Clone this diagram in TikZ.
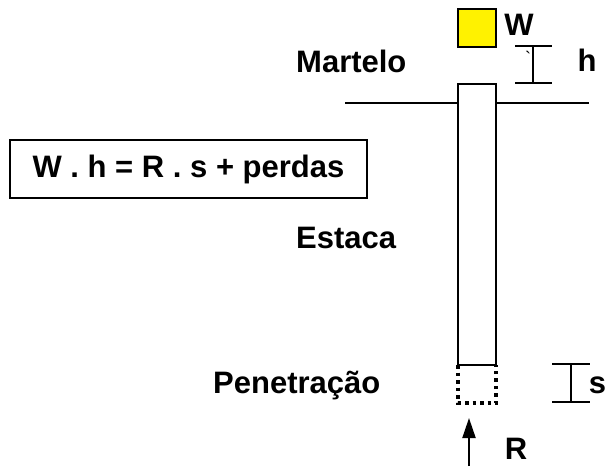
\documentclass[tikz,border=0pt]{standalone}
\usepackage{fontspec}
\newfontfamily\arial{Liberation Sans}
\usetikzlibrary{arrows.meta}
\begin{document}
\begin{tikzpicture}[x=1pt,y=-1pt,
  lbl/.style={inner sep=0pt, font=\arial\fontsize{31}{36}\selectfont\bfseries},
  ln/.style={line width=2pt},
  dots/.style={line width=3.5pt, dash pattern=on 3.5pt off 4pt}]
\useasboundingbox (0,0) rectangle (605,466);
% hammer
\draw[ln, fill=yellow] (458,9) rectangle (496,47);
\node[lbl, anchor=base] (W) at (519,35) {W};
% pile
\draw[ln] (458,84) rectangle (496,365);
\coordinate (pbl) at (458,365);
\coordinate (pbr) at (496,365);
\draw[dots] (pbl) -- (458,403) -- (496,403) -- (pbr);
% ground line
\coordinate (g1) at (345,103);
\coordinate (g2) at (458,103);
\coordinate (g3) at (496,103);
\coordinate (g4) at (589,103);
\draw[ln] (g1) -- (g2);
\draw[ln] (g3) -- (g4);
% h marker
\coordinate (ht) at (533,46);
\coordinate (hb) at (533,83);
\draw[ln] (515,46) -- (552,46);
\draw[ln] (515,83) -- (552,83);
\draw[ln] (ht) -- (hb);
\node[inner sep=0pt, font=\arial\fontsize{18}{20}\selectfont, anchor=base] (tick) at (528,64) {\textasciigrave};
\node[lbl, anchor=base] (h) at (587,71) {h};
% s marker
\coordinate (st) at (571,364);
\coordinate (sb) at (571,402);
\draw[ln] (552,364) -- (590,364);
\draw[ln] (552,402) -- (590,402);
\draw[ln] (st) -- (sb);
\node[lbl, anchor=base] (s) at (597.5,393) {s};
% R arrow
\coordinate (ra) at (469,466);
\coordinate (rb) at (469,418);
\draw[ln, -{Triangle[length=20pt,width=13pt]}] (ra) -- (rb);
\node[lbl, anchor=base] (R) at (516,459) {R};
% labels
\node[lbl, anchor=base west] (mart) at (296,72) {Martelo};
\node[lbl, anchor=base west] (est) at (296,248) {Estaca};
\node[lbl, anchor=base west] (pen) at (213,393) {Penetração};
% equation
\node[lbl, draw, line width=2pt, minimum width=357pt, minimum height=58pt] (eq) at (188.5,169) {W . h = R . s + perdas};
\end{tikzpicture}
\end{document}
